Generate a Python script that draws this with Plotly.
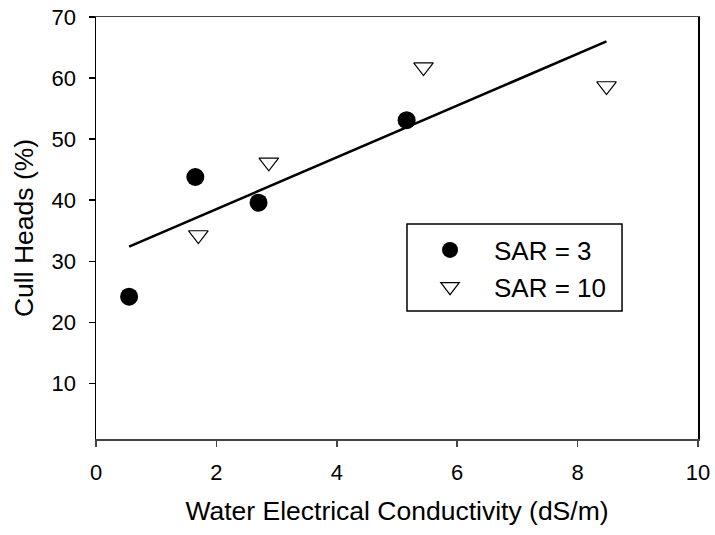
import plotly.graph_objects as go

# Data
sar3_ec = [0.55, 1.65, 2.70, 5.16]
sar3_cull = [24.2, 43.8, 39.6, 53.1]

sar10_ec = [1.70, 2.87, 5.44, 8.48]
sar10_cull = [34.3, 46.2, 61.8, 58.7]

fit_ec = [0.55, 8.48]
fit_cull = [32.4, 66.0]

x_ticks = [0, 2, 4, 6, 8, 10]
y_ticks = [10, 20, 30, 40, 50, 60, 70]

FONT = "Arial, Liberation Sans, sans-serif"

fig = go.Figure()
fig.add_trace(go.Scatter(x=fit_ec, y=fit_cull, mode="lines",
                         line=dict(color="black", width=2.6),
                         showlegend=False, hoverinfo="skip"))
fig.add_trace(go.Scatter(x=sar3_ec, y=sar3_cull, mode="markers", name="SAR = 3",
                         marker=dict(symbol="circle", size=18, color="black",
                                     line=dict(color="black", width=0))))
fig.add_trace(go.Scatter(x=sar10_ec, y=sar10_cull, mode="markers", name="SAR = 10",
                         marker=dict(symbol="triangle-down", size=17, color="white",
                                     line=dict(color="black", width=1.2))))

# legend frame
fig.add_shape(type="rect", xref="paper", yref="paper",
              x0=0.5166, x1=0.8738, y0=0.3033, y1=0.5095,
              line=dict(color="black", width=1.5), fillcolor="rgba(0,0,0,0)",
              layer="above")

fig.update_layout(
    width=715, height=535,
    margin=dict(l=96, r=17, t=17, b=96),
    paper_bgcolor="white", plot_bgcolor="white",
    font=dict(family=FONT, size=22, color="black"),
    showlegend=True,
    legend=dict(x=0.515, y=0.5036, xanchor="left", yanchor="top",
                borderwidth=0, bgcolor="rgba(0,0,0,0)",
                font=dict(family=FONT, size=26, color="black"),
                itemwidth=78, tracegroupgap=0),
    xaxis=dict(range=[0, 10], tickvals=x_ticks, ticks="outside", ticklen=6,
               tickwidth=1.5, tickcolor="#444", showgrid=False, zeroline=False,
               showline=True, linecolor="#444", linewidth=1.5, mirror=True,
               tickfont=dict(size=22), ticklabelstandoff=7, automargin=False,
               title=dict(text="Water Electrical Conductivity (dS/m)",
                          font=dict(size=26.5), standoff=17)),
    yaxis=dict(range=[0.9, 70], tickvals=y_ticks, ticks="outside", ticklen=6,
               tickwidth=1.5, tickcolor="black", showgrid=False, zeroline=False,
               showline=True, linecolor="black", linewidth=1.5, mirror=True,
               tickfont=dict(size=22), ticklabelstandoff=8, automargin=False,
               title=dict(text="Cull Heads (%)", font=dict(size=26.5), standoff=10)),
)

fig.write_html("out.html",
               config={"displayModeBar": False, "staticPlot": True},
               post_script="document.body.style.margin='0';document.body.style.overflow='hidden';")
